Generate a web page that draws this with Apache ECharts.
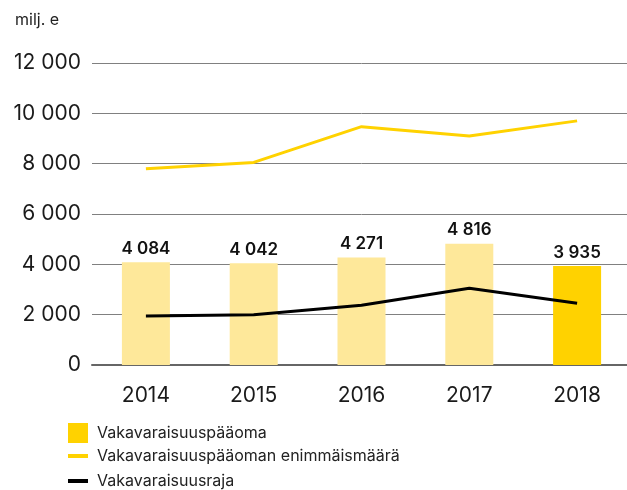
<!DOCTYPE html>
<html>
<head>
<meta charset="utf-8">
<script src="https://cdn.jsdelivr.net/npm/echarts@6/dist/echarts.min.js"></script>
<style>
  html, body { margin: 0; padding: 0; background: #fff; overflow: hidden; }
  #chart { width: 632px; height: 490px; }
</style>
</head>
<body>
<div id="chart"></div>
<script>
// vuodet ja arvot (milj. e)
const years = ['2014', '2015', '2016', '2017', '2018'];
const capital = [4084, 4042, 4271, 4816, 3935];
const maxCapital = [7800, 8050, 9470, 9100, 9700];
const requirement = [1950, 2000, 2370, 3050, 2450];
const yTicks = [0, 2000, 4000, 6000, 8000, 10000, 12000];

const LIGHT = '#FEE89A';
const YELLOW = '#FFD200';
const FONT = 'Inter, "Liberation Sans", Arial, sans-serif';

const fmt = v => String(v).replace(/\B(?=(\d{3})+(?!\d))/g, ' ');

const chart = echarts.init(document.getElementById('chart'));
const legendText = { fontSize: 16, color: '#222', padding: [0, 0, 0, 4] };
const option = {
  animation: false,
  textStyle: { fontFamily: FONT },
  graphic: [{
    type: 'text', left: 15, top: 12,
    style: { text: 'milj. e', fontSize: 16, fill: '#222', fontFamily: FONT }
  }],
  grid: { left: 92, right: 1, top: 63, bottom: 125 },
  legend: [
    {
      data: [{ name: 'Vakavaraisuuspääoma', icon: 'rect', itemStyle: { color: YELLOW } }],
      left: 68, top: 423, padding: 0, itemWidth: 20, itemHeight: 20,
      selectedMode: false, textStyle: legendText
    },
    {
      data: [{ name: 'Vakavaraisuuspääoman enimmäismäärä', icon: 'rect' }],
      left: 68, top: 448, padding: 0, itemWidth: 20, itemHeight: 4,
      selectedMode: false, textStyle: legendText
    },
    {
      data: [{ name: 'Vakavaraisuusraja', icon: 'rect' }],
      left: 68, top: 473, padding: 0, itemWidth: 20, itemHeight: 4,
      selectedMode: false, textStyle: legendText
    }
  ],
  xAxis: {
    type: 'category',
    data: years,
    axisTick: { show: false },
    axisLine: { lineStyle: { color: '#666', width: 2 } },
    axisLabel: { fontSize: 21, color: '#1a1a1a', margin: 20 }
  },
  yAxis: {
    type: 'value',
    min: yTicks[0],
    max: yTicks[yTicks.length - 1],
    interval: 2000,
    axisLine: { show: false },
    axisTick: { show: false },
    splitLine: { lineStyle: { color: '#808080', width: 1 } },
    axisLabel: { fontSize: 21, color: '#1a1a1a', margin: 11, formatter: v => fmt(v) }
  },
  series: [
    {
      name: 'Vakavaraisuuspääoma',
      type: 'bar',
      barWidth: 48,
      data: capital.map((v, i) => ({
        value: v,
        itemStyle: { color: i === capital.length - 1 ? YELLOW : LIGHT }
      })),
      itemStyle: { color: YELLOW },
      label: {
        show: true, position: 'top', distance: 5,
        fontSize: 17, fontWeight: 600, color: '#111',
        formatter: p => fmt(p.value)
      },
      z: 1
    },
    {
      name: 'Vakavaraisuuspääoman enimmäismäärä',
      type: 'line',
      data: maxCapital,
      symbol: 'none',
      lineStyle: { color: YELLOW, width: 3 },
      itemStyle: { color: YELLOW },
      z: 3
    },
    {
      name: 'Vakavaraisuusraja',
      type: 'line',
      data: requirement,
      symbol: 'none',
      lineStyle: { color: '#000', width: 3 },
      itemStyle: { color: '#000' },
      z: 3
    }
  ]
};
chart.setOption(option);
</script>
</body>
</html>
